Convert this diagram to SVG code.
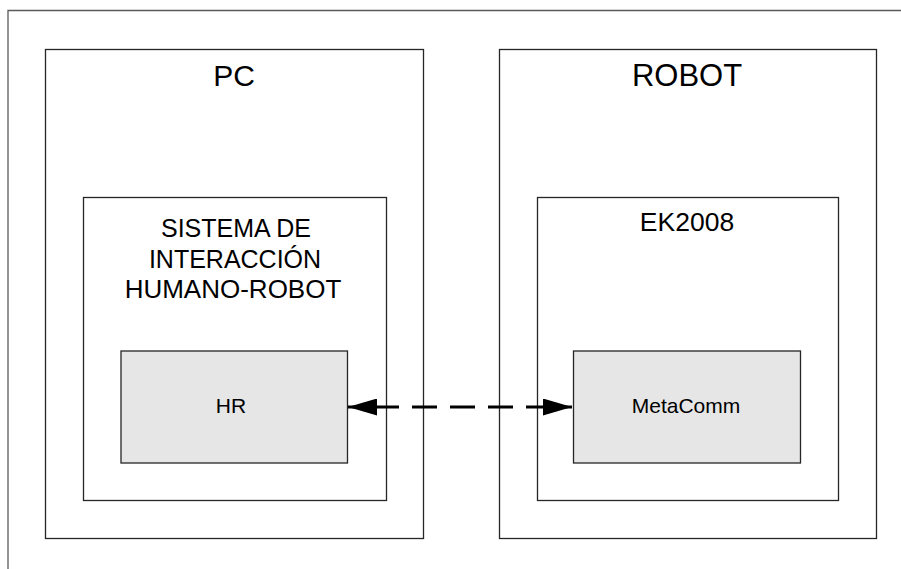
<svg xmlns="http://www.w3.org/2000/svg" width="901" height="569" viewBox="0 0 901 569">
  <style>
    .frame { fill: none; stroke: #5a5a5a; stroke-width: 1.3; }
    .box { fill: #ffffff; stroke: #262626; stroke-width: 1.3; }
    .module { fill: #e6e6e6; stroke: #262626; stroke-width: 1.3; }
    text { font-family: "Liberation Sans", Arial, sans-serif; fill: #000; text-anchor: middle; }
    .title { font-size: 30px; }
    .sub { font-size: 25px; }
    .mod { font-size: 21px; }
    .link { fill: none; stroke: #000; stroke-width: 3; stroke-dasharray: 25 13; stroke-dashoffset: 12; }
  </style>
  <defs>
    <marker id="head" viewBox="0 0 29 17" refX="29" refY="8.5" markerUnits="userSpaceOnUse" markerWidth="29" markerHeight="17" orient="auto-start-reverse">
      <path d="M0,0 L29,8.5 L0,17 z" fill="#000"/>
    </marker>
  </defs>

  <rect width="901" height="569" fill="#ffffff"/>

  <!-- outer page frame (open at right and bottom) -->
  <path class="frame" d="M8,569 V10.5 H901"/>

  <g id="pc">
    <rect class="box" x="45.5" y="49.5" width="378" height="489"/>
    <text class="title" x="234" y="86">PC</text>
  </g>

  <g id="robot">
    <rect class="box" x="499.5" y="49.5" width="377" height="489"/>
    <text class="title" x="687" y="86" style="font-size:31px">ROBOT</text>
  </g>

  <g id="sistema">
    <rect class="box" x="83.5" y="197.5" width="303" height="303"/>
    <text class="sub" x="236" y="237">SISTEMA DE</text>
    <text class="sub" x="235" y="267.5">INTERACCIÓN</text>
    <text class="sub" x="233" y="297.5" style="font-size:26px">HUMANO-ROBOT</text>
  </g>

  <g id="ek2008">
    <rect class="box" x="537.5" y="197.5" width="301" height="303"/>
    <text class="sub" x="687" y="231" style="font-size:26.5px">EK2008</text>
  </g>

  <g id="hr">
    <rect class="module" x="121" y="351" width="226.5" height="112"/>
    <text class="mod" x="231" y="413">HR</text>
  </g>

  <g id="metacomm">
    <rect class="module" x="573.5" y="351" width="227" height="112"/>
    <text class="mod" x="686" y="413">MetaComm</text>
  </g>

  <g id="connectors">
    <path class="link" d="M348,407 H572" marker-start="url(#head)" marker-end="url(#head)"/>
  </g>
</svg>
